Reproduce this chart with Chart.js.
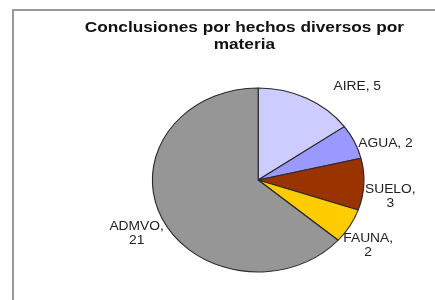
<!DOCTYPE html>
<html>
<head>
<meta charset="utf-8">
<script src="https://cdn.jsdelivr.net/npm/chart.js@4/dist/chart.umd.min.js"></script>
<style>
  html, body { margin: 0; padding: 0; background: #fff; }
  #wrap { width: 435px; height: 300px; }
  canvas { background: #fff; }
</style>
</head>
<body>
<div id="wrap"><canvas id="chart" width="435" height="300"></canvas></div>
<script>
const TITLE = ['Conclusiones por hechos diversos por', 'materia'];
const categories = ['AIRE', 'AGUA', 'SUELO', 'FAUNA', 'ADMVO'];
const counts = [5, 2, 3, 2, 21];
const colors = ['#ccccff', '#9999ff', '#993300', '#ffcc00', '#969696'];

// the original picture is stretched sideways, so draw everything a bit wider
const SX = 1.15;
// label nudges from the slice edge (logical px), and whether to break after comma
const labelNudge = [[44, -12, false], [27, 2, false], [23, 12, true], [16, 20, true], [-22, 15, true]];

const FONT = '"Liberation Sans", Arial, sans-serif';

const stretch = {
  id: 'stretch',
  beforeDraw(chart) {
    chart.ctx.save();
    chart.ctx.scale(SX, 1);
  },
  afterDatasetsDraw(chart) {
    const ctx = chart.ctx;
    ctx.fillStyle = '#111';
    ctx.textAlign = 'center';
    ctx.textBaseline = 'middle';
    ctx.font = `bold 15px ${FONT}`;
    TITLE.forEach((line, i) => ctx.fillText(line, 212.5, 28 + i * 17));

    ctx.font = `12px ${FONT}`;
    ctx.fillStyle = '#222';
    chart.getDatasetMeta(0).data.forEach((arc, i) => {
      const {x, y, startAngle, endAngle, outerRadius} = arc.getProps(['x', 'y', 'startAngle', 'endAngle', 'outerRadius'], true);
      const mid = (startAngle + endAngle) / 2;
      const [dx, dy, wrap] = labelNudge[i];
      const lx = x + Math.cos(mid) * outerRadius + dx;
      const ly = y + Math.sin(mid) * outerRadius + dy;
      const lines = wrap ? [categories[i] + ',', String(counts[i])] : [categories[i] + ', ' + counts[i]];
      lines.forEach((t, k) => ctx.fillText(t, lx, ly + (k - (lines.length - 1) / 2) * 14));
    });
  },
  afterDraw(chart) {
    const ctx = chart.ctx;
    ctx.restore();
    ctx.save();
    ctx.strokeStyle = '#9a9a9a';
    ctx.lineWidth = 2;
    ctx.strokeRect(13, 10, 440, 400);
    ctx.restore();
  }
};

new Chart(document.getElementById('chart').getContext('2d'), {
  type: 'pie',
  data: {
    labels: categories,
    datasets: [{
      data: counts,
      backgroundColor: colors,
      borderColor: '#2a2a2a',
      borderWidth: 1
    }]
  },
  options: {
    responsive: false,
    animation: false,
    layout: {
      padding: { left: 132, right: 118, top: 87, bottom: 27 }
    },
    plugins: {
      legend: { display: false },
      tooltip: { enabled: false }
    }
  },
  plugins: [stretch]
});
</script>
</body>
</html>
